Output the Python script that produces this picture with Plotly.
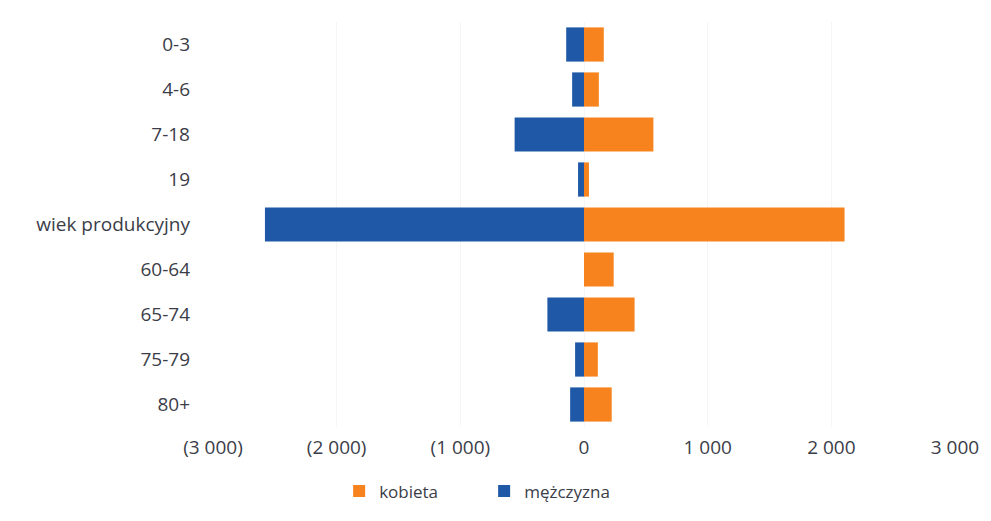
import plotly.graph_objects as go

categories = ["0-3", "4-6", "7-18", "19", "wiek produkcyjny", "60-64", "65-74", "75-79", "80+"]
kobieta = [160, 120, 561, 40, 2107, 240, 409, 112, 224]
mezczyzna = [-144, -96, -561, -48, -2580, 0, -296, -72, -112]
tick_vals = [-3000, -2000, -1000, 0, 1000, 2000, 3000]
tick_text = ["(3 000)", "(2 000)", "(1 000)", "0", "1 000", "2 000", "3 000"]

fig = go.Figure()
fig.add_trace(go.Bar(y=categories, x=kobieta, orientation="h", name="kobieta",
                     marker=dict(color="#F7831F", line=dict(width=0))))
fig.add_trace(go.Bar(y=categories, x=mezczyzna, orientation="h", name="mężczyzna",
                     marker=dict(color="#1F58A6", line=dict(width=0))))

fig.update_layout(
    width=983, height=513,
    barmode="relative", bargap=0.24,
    paper_bgcolor="white", plot_bgcolor="white",
    margin=dict(l=205, r=29, t=14, b=84),
    font=dict(family="Open Sans, sans-serif", size=19, color="#3b3d48"),
    showlegend=True,
    legend=dict(orientation="h", x=0.17, xanchor="left", y=-0.159, yanchor="middle",
                traceorder="normal", entrywidth=100, entrywidthmode="pixels",
                font=dict(size=17, color="#3b3d48")),
)
fig.update_xaxes(range=[-3000, 3000], tickvals=tick_vals, ticktext=tick_text,
                 showgrid=True, gridcolor="#f5f5f5", zeroline=False,
                 showline=False, ticks="", ticklabelstandoff=7)
fig.update_yaxes(autorange="reversed", showgrid=False, zeroline=False,
                 showline=False, ticks="", ticklabelstandoff=22)

fig.write_html("out.html")
